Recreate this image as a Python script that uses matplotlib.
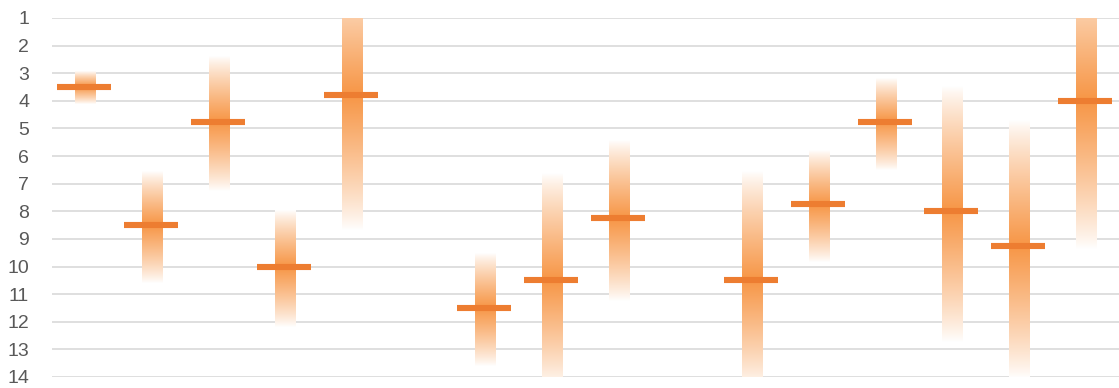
import numpy as np
import matplotlib
matplotlib.use("Agg")
import matplotlib.pyplot as plt

# values per slot (None = empty slot between groups)
medians = [3.5, 8.5, 4.75, 10.0, 3.78, None, 11.5, 10.5, 8.25, None,
           10.5, 7.75, 4.75, 8.0, 9.25, 4.0]
lows = [2.95, 6.57, 2.4, 7.96, -1.1, None, 9.53, 6.63, 5.42, None,
        6.57, 5.78, 3.19, 3.49, 4.7, -1.3]
highs = [4.12, 10.59, 7.26, 12.18, 8.66, None, 13.6, 14.4, 11.24, None,
         14.45, 9.83, 6.51, 12.73, 14.05, 9.38]
yticks = list(range(1, 15))

bar_rgb = np.array([247, 150, 70]) / 255
line_color = "#ED7D31"

plt.rcParams['font.family'] = ['Liberation Sans', 'DejaVu Sans']

fig = plt.figure(figsize=(11.19, 3.88), dpi=100)
ax = fig.add_axes([52 / 1119, 11 / 388, 1067 / 1119, 359 / 388])

for i, (med, lo, hi) in enumerate(zip(medians, lows, highs)):
    if med is None:
        continue
    y = np.linspace(lo, hi, 300)
    t = np.where(y < med, (y - lo) / (med - lo), (hi - y) / (hi - med))
    t = np.clip(t, 0, 1)[:, None] ** 0.85
    rgb = (1 - t) * np.ones(3) + t * bar_rgb
    img = np.repeat(rgb[:, None, :], 2, axis=1)
    ax.imshow(img, extent=(i - 0.15, i + 0.15, lo, hi), origin='lower',
              aspect='auto', interpolation='bilinear', zorder=2)
    ax.plot([i - 0.42, i + 0.39], [med, med], color=line_color, lw=4.4,
            solid_capstyle='butt', zorder=3)

ax.set_xlim(-0.5, len(medians) - 0.5)
ax.set_ylim(14, 1)
ax.set_yticks(yticks)
ax.set_xticks([])
for s in ax.spines.values():
    s.set_visible(False)
ax.yaxis.grid(True, color="#D9D9D9", lw=1.2, zorder=0)
ax.set_axisbelow(True)
ax.tick_params(axis='y', length=0, pad=16.5, labelsize=14, labelcolor="#595959")

plt.savefig("out.png", dpi=100)
